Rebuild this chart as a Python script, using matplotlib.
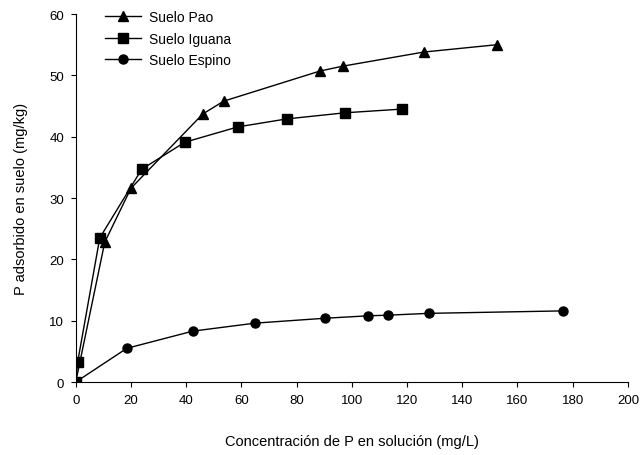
import matplotlib
matplotlib.use("Agg")
import matplotlib.pyplot as plt

plt.rcParams["font.family"] = ["Liberation Sans", "DejaVu Sans"]

# datos
pao_x = [0, 10.5, 20, 46, 53.6, 88.4, 96.7, 126, 152.5]
pao_y = [0, 22.8, 31.6, 43.7, 45.8, 50.7, 51.5, 53.8, 55.0]

iguana_x = [0, 0.7, 8.7, 23.9, 39.5, 58.7, 76.4, 97.5, 118]
iguana_y = [0, 3.3, 23.5, 34.7, 39.1, 41.6, 42.9, 43.9, 44.5]

espino_x = [0, 18.5, 42.4, 64.9, 90.2, 106, 113, 127.9, 176.4]
espino_y = [0, 5.5, 8.3, 9.6, 10.4, 10.8, 10.9, 11.2, 11.6]

fig = plt.figure(figsize=(6.42, 4.56), dpi=100)
ax = fig.add_axes([0.118, 0.160, 0.860, 0.807])

ax.plot(pao_x, pao_y, "k-^", lw=1, ms=6.5, label="Suelo Pao")
ax.plot(iguana_x, iguana_y, "k-s", lw=1, ms=6.5, label="Suelo Iguana")
ax.plot(espino_x, espino_y, "k-o", lw=1, ms=6.5, label="Suelo Espino")

ax.set_xlim(0, 200)
ax.set_ylim(0, 60)
ax.set_xticks(range(0, 201, 20))
ax.set_yticks(range(0, 61, 10))
ax.spines["top"].set_visible(False)
ax.spines["right"].set_visible(False)
ax.tick_params(labelsize=9.5, length=3.5, pad=5)

ax.set_xlabel("Concentración de P en solución (mg/L)", fontsize=10.5, labelpad=20)
ax.set_ylabel("P adsorbido en suelo (mg/kg)", fontsize=10.5, labelpad=15)

ax.legend(loc="upper left", bbox_to_anchor=(0.03, 1.045), frameon=False,
          fontsize=10, handlelength=2.6, handletextpad=0.6, labelspacing=0.55)

fig.savefig("out.png", dpi=100)
